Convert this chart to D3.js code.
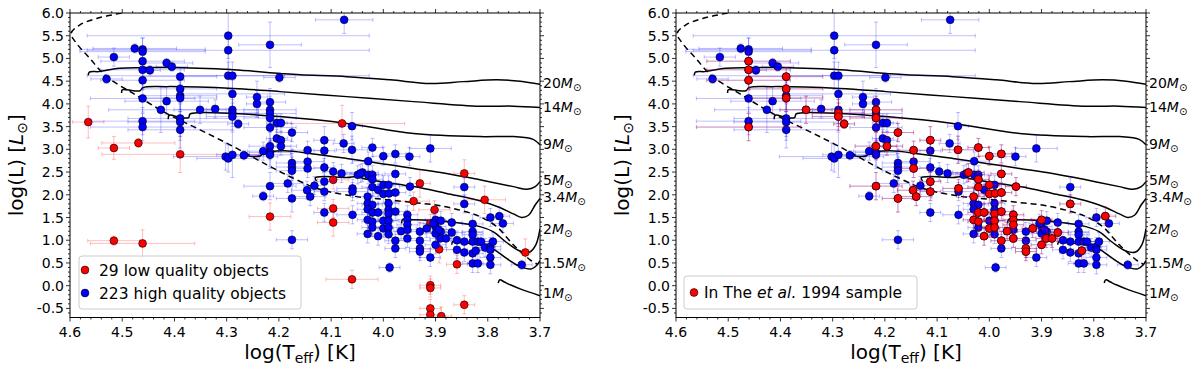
<!DOCTYPE html>
<html>
<head>
<meta charset="utf-8">
<script src="https://cdn.jsdelivr.net/npm/d3@7"></script>
<style>
  body { margin: 0; background: #fff; }
  svg { font-family: "DejaVu Sans", sans-serif; }
</style>
</head>
<body>
<div id="chart"></div>
<script>
// high quality objects: [logTeff, logL, errT, errL, inThe1994]
const highQ = [
  [4.530,4.55,0.03,0.10,0],[4.516,5.03,0.03,0.20,0],[4.476,5.22,0.08,0.10,0],[4.461,5.20,0.12,0.25,0],
  [4.461,5.15,0.12,0.30,0],[4.461,4.94,0.08,0.20,1],[4.461,4.75,0.08,0.20,1],[4.461,4.52,0.08,0.20,1],
  [4.461,4.12,0.10,0.30,0],[4.461,3.62,0.10,0.30,0],[4.461,3.49,0.10,0.30,1],[4.447,4.74,0.02,0.10,0],
  [4.415,4.90,0.05,0.10,0],[4.405,4.82,0.03,0.10,0],[4.415,4.06,0.08,0.30,0],[4.426,3.87,0.10,0.50,0],
  [4.389,4.60,0.07,0.20,1],[4.389,4.33,0.07,0.30,1],[4.389,4.18,0.07,0.30,0],[4.389,4.13,0.07,0.30,1],
  [4.389,3.68,0.10,0.40,0],[4.389,3.60,0.10,0.40,0],[4.389,3.43,0.10,0.40,0],[4.351,3.87,0.05,0.30,1],
  [4.322,3.89,0.03,0.20,0],[4.297,5.50,0.27,0.50,0],[4.297,5.18,0.27,0.40,0],[4.297,4.62,0.27,0.30,0],
  [4.289,4.62,0.10,0.30,0],[4.289,4.22,0.10,0.30,0],[4.289,3.87,0.05,0.30,0],[4.289,3.80,0.05,0.30,1],
  [4.289,3.72,0.05,0.30,1],[4.278,3.56,0.02,0.10,1],[4.302,2.84,0.10,0.30,0],[4.297,2.80,0.06,0.30,0],
  [4.289,2.88,0.03,0.50,0],[4.267,2.87,0.03,0.10,0],[4.242,4.15,0.02,0.35,0],[4.242,4.00,0.02,0.30,0],
  [4.230,2.96,0.03,0.20,0],[4.230,1.97,0.02,0.10,0],[4.217,5.30,0.06,0.50,0],[4.217,4.04,0.03,0.30,0],
  [4.217,3.87,0.05,0.30,1],[4.217,3.79,0.05,0.30,0],[4.217,3.69,0.05,0.30,1],[4.217,3.48,0.05,0.30,0],
  [4.217,3.07,0.04,0.30,1],[4.217,2.93,0.04,0.30,0],[4.217,2.88,0.04,0.30,0],[4.217,2.19,0.05,0.30,1],
  [4.204,3.58,0.02,0.20,0],[4.196,3.58,0.02,0.20,0],[4.204,3.24,0.02,0.20,0],[4.196,3.20,0.02,0.20,0],
  [4.196,3.07,0.03,0.20,1],[4.199,4.58,0.03,0.10,0],[4.183,2.25,0.03,0.20,0],[4.175,3.37,0.03,0.20,1],
  [4.175,2.70,0.03,0.30,0],[4.175,2.61,0.03,0.30,0],[4.175,2.53,0.03,0.30,0],[4.175,1.92,0.03,0.30,1],
  [4.175,1.01,0.03,0.20,0],[4.145,2.98,0.03,0.20,1],[4.145,2.73,0.03,0.20,0],[4.145,2.58,0.03,0.20,1],
  [4.146,2.10,0.03,0.20,1],[4.140,1.96,0.03,0.20,1],[4.132,2.20,0.02,0.20,0],[4.113,3.20,0.02,0.30,1],
  [4.113,2.97,0.02,0.30,0],[4.113,2.60,0.02,0.20,0],[4.113,2.29,0.02,0.20,1],[4.113,2.07,0.02,0.20,1],
  [4.113,1.61,0.02,0.20,0],[4.096,2.51,0.02,0.20,0],[4.076,3.13,0.02,0.20,0],[4.060,3.51,0.02,0.30,0],
  [4.060,2.99,0.03,0.30,1],[4.075,5.85,0.055,0.30,0],[4.059,2.14,0.03,0.20,1],[4.059,2.07,0.03,0.20,0],
  [4.059,1.56,0.03,0.20,0],[4.049,2.44,0.03,0.20,0],[4.040,2.49,0.03,0.20,1],[4.029,2.74,0.03,0.20,0],
  [4.029,2.44,0.02,0.20,0],[4.021,2.44,0.02,0.20,0],[4.021,2.34,0.02,0.20,1],[4.021,2.17,0.02,0.20,1],
  [4.021,3.04,0.02,0.20,1],[4.010,2.11,0.02,0.20,0],[4.000,2.22,0.02,0.20,1],[3.990,2.22,0.02,0.20,0],
  [4.000,2.02,0.02,0.20,1],[3.989,2.03,0.02,0.20,1],[3.977,2.46,0.02,0.20,1],[3.977,2.05,0.02,0.20,1],
  [4.000,2.85,0.02,0.20,1],[3.977,2.90,0.02,0.20,1],[3.950,2.84,0.02,0.20,0],[3.910,3.02,0.04,0.30,0],
  [4.030,1.96,0.02,0.20,1],[4.030,1.81,0.02,0.20,0],[4.021,1.78,0.02,0.20,0],[4.030,1.68,0.02,0.20,0],
  [4.021,1.61,0.02,0.20,1],[4.010,1.61,0.02,0.20,1],[4.030,1.45,0.02,0.20,1],[4.021,1.41,0.02,0.20,1],
  [4.021,1.28,0.02,0.20,0],[4.000,1.43,0.02,0.20,0],[4.000,1.26,0.02,0.20,1],[3.990,1.81,0.02,0.20,0],
  [3.990,1.67,0.02,0.20,0],[3.990,1.58,0.02,0.20,1],[3.990,1.43,0.02,0.20,1],[3.990,1.28,0.02,0.20,1],
  [3.990,1.13,0.02,0.20,0],[3.977,1.63,0.02,0.20,1],[4.010,1.09,0.02,0.20,1],[4.030,1.14,0.02,0.20,0],
  [3.977,0.99,0.02,0.20,1],[3.977,0.82,0.02,0.20,0],[3.966,1.20,0.02,0.20,1],[3.954,1.56,0.02,0.20,1],
  [3.954,1.45,0.02,0.20,1],[3.954,1.34,0.02,0.20,1],[3.954,1.23,0.02,0.20,0],[3.954,1.04,0.02,0.20,1],
  [3.949,2.18,0.02,0.20,1],[3.930,1.19,0.02,0.20,0],[3.930,0.99,0.02,0.20,0],[3.930,0.82,0.02,0.20,1],
  [3.930,0.75,0.02,0.20,1],[3.910,0.62,0.02,0.20,0],[3.917,1.26,0.02,0.20,1],[3.900,1.45,0.02,0.20,1],
  [3.890,1.43,0.02,0.20,0],[3.900,1.30,0.02,0.20,0],[3.890,1.19,0.02,0.20,0],[3.900,0.90,0.02,0.20,1],
  [3.891,1.04,0.02,0.20,1],[3.880,1.04,0.02,0.20,1],[3.900,1.15,0.02,0.20,0],[3.894,1.23,0.02,0.20,0],
  [3.904,1.37,0.02,0.20,0],[3.869,1.39,0.02,0.20,0],[3.869,1.17,0.02,0.20,1],[3.859,1.00,0.02,0.20,0],
  [3.859,0.79,0.02,0.20,0],[3.845,2.17,0.02,0.20,0],[3.845,1.80,0.02,0.20,1],[3.845,0.73,0.02,0.20,0],
  [3.845,0.97,0.02,0.20,0],[3.829,1.36,0.02,0.20,0],[3.829,1.19,0.02,0.20,0],[3.829,1.12,0.02,0.20,0],
  [3.829,0.97,0.02,0.20,0],[3.829,0.71,0.02,0.20,0],[3.823,0.77,0.02,0.20,1],[3.829,0.49,0.02,0.20,0],
  [3.819,0.49,0.02,0.20,0],[3.819,0.97,0.02,0.20,0],[3.813,0.97,0.02,0.20,0],[3.805,0.84,0.02,0.20,0],
  [3.795,0.86,0.02,0.20,0],[3.790,0.97,0.02,0.20,0],[3.795,0.79,0.02,0.20,0],[3.795,0.62,0.02,0.20,0],
  [3.795,0.46,0.02,0.20,0],[3.795,1.50,0.02,0.20,0],[3.778,1.53,0.02,0.20,1],[3.771,1.37,0.02,0.20,0],
  [3.735,0.46,0.02,0.10,0],[3.988,0.40,0.02,0.10,0],[4.080,2.47,0.02,0.20,0],[4.044,2.47,0.02,0.20,0]
];

// low quality objects: [logTeff, logL, errT, errL]
const lowQ = [
  [4.565,3.60,0.03,0.35],[4.516,3.03,0.03,0.25],[4.469,3.14,0.07,0.10],[4.389,2.89,0.15,0.40],
  [4.516,0.99,0.05,0.10],[4.461,0.93,0.10,0.30],[4.217,1.52,0.04,0.30],[4.079,3.57,0.12,0.40],
  [4.096,2.33,0.03,0.20],[4.096,1.70,0.03,0.20],[4.096,1.39,0.03,0.30],[4.060,0.14,0.05,0.20],
  [3.930,2.25,0.02,0.30],[3.942,1.86,0.03,0.20],[3.902,1.67,0.03,0.20],[3.910,1.37,0.02,0.20],
  [3.893,0.80,0.03,0.30],[3.845,2.47,0.02,0.30],[3.806,1.89,0.04,0.30],[3.728,0.73,0.01,0.30],
  [3.859,0.47,0.02,0.20],[3.910,0.01,0.02,0.20],[3.910,-0.05,0.02,0.20],[3.910,-0.50,0.02,0.20],
  [3.910,-0.64,0.02,0.20],[3.889,-0.67,0.02,0.20],[3.845,-0.42,0.02,0.20]
];

const legendLeft = ["29 low quality objects", "223 high quality objects"];

// evolutionary tracks [logTeff, logL]
const trackMasses = ["20", "14", "9", "5", "3.4", "2", "1.5", "1"];
const trackLabelL = [4.45, 3.93, 3.12, 2.33, 1.96, 1.24, 0.49, -0.17];
const tracks = [
  [[4.565,4.63],[4.563,4.70],[4.545,4.71],[4.53,4.74],[4.51,4.78],[4.415,4.80],[4.287,4.75],[4.198,4.67],[4.159,4.64],[4.07,4.60],[3.987,4.53],[3.91,4.45],[3.847,4.49],[3.783,4.53],[3.738,4.50],[3.70,4.43]],
  [[4.501,4.24],[4.50,4.31],[4.479,4.29],[4.466,4.29],[4.46,4.36],[4.415,4.38],[4.287,4.34],[4.198,4.27],[4.07,4.16],[3.942,4.05],[3.815,3.95],[3.751,3.95],[3.70,3.92]],
  [[4.412,3.66],[4.41,3.75],[4.389,3.70],[4.373,3.70],[4.37,3.78],[4.351,3.81],[4.287,3.79],[4.198,3.72],[4.07,3.57],[3.942,3.35],[3.815,3.28],[3.751,3.28],[3.713,3.22],[3.70,3.10]],
  [[4.274,2.82],[4.265,2.86],[4.249,2.84],[4.235,2.86],[4.23,2.91],[4.191,2.97],[4.134,2.90],[4.07,2.80],[4.006,2.69],[3.942,2.58],[3.879,2.47],[3.815,2.33],[3.751,2.18],[3.725,2.12],[3.709,2.18],[3.70,2.29]],
  [[4.128,2.30],[4.13,2.38],[4.115,2.40],[4.07,2.38],[4.051,2.40],[4.038,2.36],[4.006,2.29],[3.942,2.18],[3.879,2.03],[3.815,1.87],[3.777,1.72],[3.751,1.58],[3.735,1.50],[3.722,1.55],[3.709,1.78],[3.70,1.92]],
  [[3.965,1.37],[3.963,1.46],[3.955,1.45],[3.942,1.45],[3.879,1.41],[3.815,1.30],[3.79,1.19],[3.764,0.95],[3.738,0.76],[3.72,0.74],[3.708,0.90],[3.70,1.25]],
  [[3.869,0.90],[3.867,0.97],[3.853,0.95],[3.815,0.90],[3.789,0.80],[3.764,0.60],[3.738,0.42],[3.716,0.37],[3.706,0.45],[3.70,0.55]],
  [[3.78,0.06],[3.777,0.13],[3.768,0.08],[3.757,0.02],[3.738,-0.07],[3.70,-0.22]]
];
const birthline = [[4.501,6.0],[4.549,5.88],[4.581,5.74],[4.598,5.55],[4.59,5.37],[4.562,5.0],[4.53,4.6],[4.479,4.23],[4.415,3.79],[4.351,3.43],[4.287,3.06],[4.223,2.66],[4.17,2.35],[4.121,2.12],[4.057,1.97],[4.0,1.9],[3.942,1.83],[3.891,1.76],[3.84,1.62],[3.815,1.52],[3.783,1.3],[3.751,0.9],[3.719,0.57],[3.705,0.47]];

const xTicks = [4.6, 4.5, 4.4, 4.3, 4.2, 4.1, 4.0, 3.9, 3.8, 3.7];
const yTicks = [-0.5, 0.0, 0.5, 1.0, 1.5, 2.0, 2.5, 3.0, 3.5, 4.0, 4.5, 5.0, 5.5, 6.0];

const W = 1200, H = 368;
const svg = d3.select("#chart").append("svg").attr("width", W).attr("height", H);

function drawPanel(x0, mode) {
  const pw = 470, top = 13, bottom = 317.5;
  const x = d3.scaleLinear().domain([4.6, 3.7]).range([x0, x0 + pw]);
  const y = d3.scaleLinear().domain([-0.7, 6.0]).range([bottom, top]);
  const g = svg.append("g");
  const clipId = "clip" + mode;
  g.append("clipPath").attr("id", clipId).append("rect")
    .attr("x", x0).attr("y", top).attr("width", pw).attr("height", bottom - top);
  const plot = g.append("g").attr("clip-path", `url(#${clipId})`);

  // tracks
  const line = d3.line().x(d => x(d[0])).y(d => y(d[1])).curve(d3.curveCatmullRom);
  plot.selectAll(".trk").data(tracks).join("path")
    .attr("d", line).attr("fill", "none").attr("stroke", "#000").attr("stroke-width", 1.5);
  plot.append("path").attr("d", line(birthline)).attr("fill", "none")
    .attr("stroke", "#000").attr("stroke-width", 1.5).attr("stroke-dasharray", "6,4");

  function points(data, color) {
    const eb = plot.append("g").attr("stroke", color).attr("stroke-opacity", 0.25).attr("stroke-width", 1);
    data.forEach(d => {
      const cx = x(d[0]), cy = y(d[1]);
      const xl = x(d[0] + d[2]), xr = x(d[0] - d[2]);
      const yt = y(d[1] + d[3]), yb = y(d[1] - d[3]);
      eb.append("line").attr("x1", xl).attr("x2", xr).attr("y1", cy).attr("y2", cy);
      eb.append("line").attr("x1", cx).attr("x2", cx).attr("y1", yt).attr("y2", yb);
      [xl, xr].forEach(v => eb.append("line").attr("x1", v).attr("x2", v).attr("y1", cy - 2).attr("y2", cy + 2));
      [yt, yb].forEach(v => eb.append("line").attr("x1", cx - 2).attr("x2", cx + 2).attr("y1", v).attr("y2", v));
    });
    plot.append("g").selectAll("circle").data(data).join("circle")
      .attr("cx", d => x(d[0])).attr("cy", d => y(d[1])).attr("r", 3.9)
      .attr("fill", color).attr("stroke", "#000").attr("stroke-width", 0.6);
  }

  if (mode === "quality") {
    points(lowQ, "#ff0000");
    points(highQ, "#0000ff");
  } else {
    points(highQ, "#0000ff");
    points(highQ.filter(d => d[4] === 1), "#ff0000");
  }

  // frame
  g.append("rect").attr("x", x0).attr("y", top).attr("width", pw).attr("height", bottom - top)
    .attr("fill", "none").attr("stroke", "#000").attr("stroke-width", 1);

  // ticks
  const tk = g.append("g").attr("stroke", "#000").attr("stroke-width", 0.8);
  const xMinor = d3.range(0, 46).map(i => 4.6 - i * 0.02);
  xMinor.forEach(v => {
    const major = xTicks.some(t => Math.abs(t - v) < 1e-6);
    const len = major ? 4 : 2;
    tk.append("line").attr("x1", x(v)).attr("x2", x(v)).attr("y1", bottom).attr("y2", bottom + len);
    tk.append("line").attr("x1", x(v)).attr("x2", x(v)).attr("y1", top).attr("y2", top - len);
  });
  const yMinor = d3.range(0, 67).map(i => -0.6 + i * 0.1);
  yMinor.forEach(v => {
    const major = yTicks.some(t => Math.abs(t - v) < 1e-6);
    const len = major ? 4 : 2;
    tk.append("line").attr("x1", x0).attr("x2", x0 - len).attr("y1", y(v)).attr("y2", y(v));
    tk.append("line").attr("x1", x0 + pw).attr("x2", x0 + pw + len).attr("y1", y(v)).attr("y2", y(v));
  });

  g.append("g").selectAll("text").data(xTicks).join("text")
    .attr("x", d => x(d)).attr("y", bottom + 19).attr("text-anchor", "middle")
    .attr("font-size", 14).text(d => d.toFixed(1));
  g.append("g").selectAll("text").data(yTicks).join("text")
    .attr("x", x0 - 6).attr("y", d => y(d) + 5).attr("text-anchor", "end")
    .attr("font-size", 14).text(d => d.toFixed(1));

  // mass labels
  trackMasses.forEach((m, i) => {
    const t = g.append("text").attr("x", x0 + pw + 3).attr("y", y(trackLabelL[i]) + 5).attr("font-size", 14);
    t.append("tspan").text(m);
    t.append("tspan").attr("font-style", "italic").text("M");
    t.append("tspan").attr("font-size", 10).attr("dy", 3).text("\u2299");
  });

  // axis titles
  const xl = g.append("text").attr("x", x0 + pw / 2 - 5).attr("y", 359).attr("text-anchor", "middle").attr("font-size", 20);
  xl.append("tspan").text("log(T");
  xl.append("tspan").attr("font-size", 14).attr("dy", 4).text("eff");
  xl.append("tspan").attr("dy", -4).text(") [K]");

  const yl = g.append("text").attr("transform", `translate(${x0 - 47},${(top + bottom) / 2}) rotate(-90)`)
    .attr("text-anchor", "middle").attr("font-size", 20);
  yl.append("tspan").text("log(L) [");
  yl.append("tspan").attr("font-style", "italic").text("L");
  yl.append("tspan").attr("font-size", 14).attr("dy", 4).text("\u2299");
  yl.append("tspan").attr("dy", -4).text("]");

  // legend
  const lg = g.append("g");
  if (mode === "quality") {
    lg.append("rect").attr("x", x0 + 9).attr("y", 256).attr("width", 222).attr("height", 53).attr("rx", 3)
      .attr("fill", "#fff").attr("fill-opacity", 0.8).attr("stroke", "#ccc");
    const colors = ["#ff0000", "#0000ff"];
    legendLeft.forEach((label, i) => {
      lg.append("circle").attr("cx", x0 + 15).attr("cy", 270 + i * 23).attr("r", 3.9)
        .attr("fill", colors[i]).attr("stroke", "#000").attr("stroke-width", 0.6);
      lg.append("text").attr("x", x0 + 29).attr("y", 276 + i * 23).attr("font-size", 15.5).text(label);
    });
  } else {
    lg.append("rect").attr("x", x0 + 8).attr("y", 276).attr("width", 233).attr("height", 33).attr("rx", 3)
      .attr("fill", "#fff").attr("fill-opacity", 0.8).attr("stroke", "#ccc");
    lg.append("circle").attr("cx", x0 + 18).attr("cy", 292.5).attr("r", 3.9)
      .attr("fill", "#ff0000").attr("stroke", "#000").attr("stroke-width", 0.6);
    const t = lg.append("text").attr("x", x0 + 28).attr("y", 298).attr("font-size", 15.5);
    t.append("tspan").text("In The ");
    t.append("tspan").attr("font-style", "italic").text("et al.");
    t.append("tspan").text(" 1994 sample");
  }
}

drawPanel(70, "quality");
drawPanel(676, "the");
</script>
</body>
</html>
